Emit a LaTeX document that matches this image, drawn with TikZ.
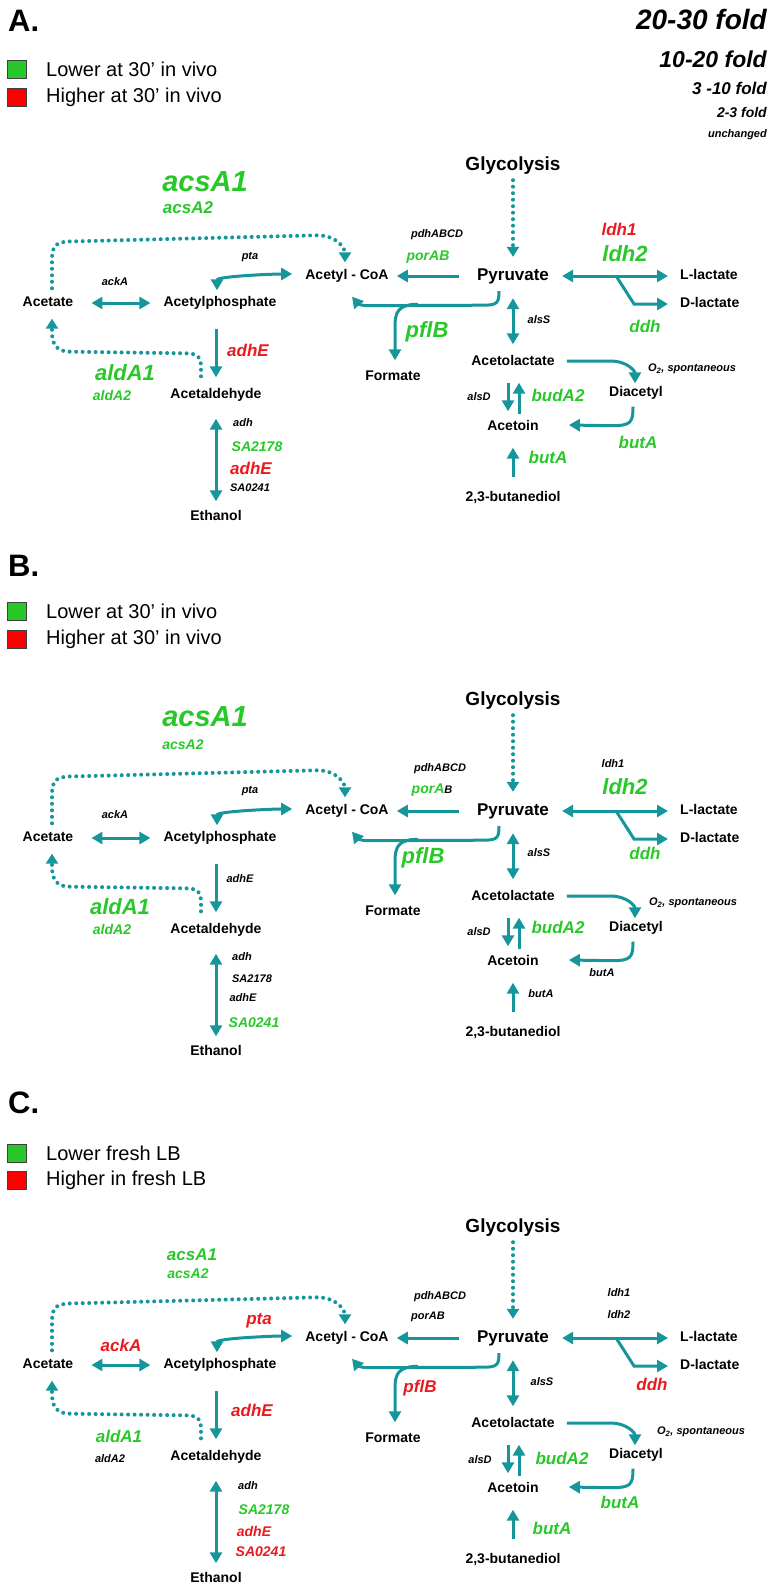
\documentclass[tikz,border=0pt]{standalone}
\usepackage{fontspec}
\setmainfont{Liberation Sans}
\usetikzlibrary{arrows.meta,calc}

\definecolor{pathteal}{RGB}{20,150,155}
\definecolor{lowgreen}{RGB}{40,200,40}
\definecolor{highred}{RGB}{235,25,30}

\tikzset{
  met/.style={font=\bfseries\fontsize{14}{16}\selectfont, inner sep=0pt, text height=10pt, text depth=3pt},
  bigmet/.style={met, font=\bfseries\fontsize{17}{20}\selectfont, text height=12.5pt, text depth=3.5pt},
  topmet/.style={met, font=\bfseries\fontsize{19}{22}\selectfont, text height=14pt, text depth=4pt},
  gzero/.style={font=\bfseries\itshape\fontsize{11}{13}\selectfont, inner sep=0pt},
  gone/.style={font=\bfseries\itshape\fontsize{14}{16}\selectfont, inner sep=0pt},
  gtwo/.style={font=\bfseries\itshape\fontsize{17}{20}\selectfont, inner sep=0pt},
  gthree/.style={font=\bfseries\itshape\fontsize{22}{26}\selectfont, inner sep=0pt},
  gfour/.style={font=\bfseries\itshape\fontsize{29}{34}\selectfont, inner sep=0pt},
  raised/.style={text=highred},
  lowered/.style={text=lowgreen},
  flux/.style={draw=pathteal, line width=3pt, -{Triangle[length=11pt,width=12pt]}},
  bothflux/.style={flux, {Triangle[length=11pt,width=12pt]}-{Triangle[length=11pt,width=12pt]}},
  dotflux/.style={draw=pathteal, line width=4pt, line cap=round, dash pattern=on 0pt off 6.5pt, -{Triangle[length=10pt,width=12pt]}},
  legbox/.style={draw=black!75, line width=0.8pt, minimum width=19pt, minimum height=18pt, inner sep=0pt},
  legtext/.style={anchor=west, font=\fontsize{20}{24}\selectfont, inner sep=0pt},
  panel/.style={anchor=west, font=\bfseries\fontsize{31}{36}\selectfont, inner sep=0pt},
  fold/.style={anchor=east, inner sep=0pt},
}

\begin{document}
\begin{tikzpicture}[x=1pt,y=1pt,yscale=-1]
    \useasboundingbox (0,0) rectangle (774,1592);

    % Same pathway drawn for the three panels
    \foreach \p/\dy in {a/0,b/535,c/1062}{
        % Metabolites
        \node[topmet] (glyc\p) at (513,165+\dy) {Glycolysis};
        \node[bigmet] (pyr\p) at (513,276+\dy) {Pyruvate};
        \node[met] (acoa\p) at (347,276+\dy) {Acetyl - CoA};
        \node[met] (form\p) at (393,377+\dy) {Formate};
        \node[met] (acet\p) at (48,303+\dy) {Acetate};
        \node[met] (acp\p) at (220,303+\dy) {Acetylphosphate};
        \node[met] (acald\p) at (216,395+\dy) {Acetaldehyde};
        \node[met] (etoh\p) at (216,517+\dy) {Ethanol};
        \node[met] (alac\p) at (513,362+\dy) {Acetolactate};
        \node[met] (diac\p) at (636,393+\dy) {Diacetyl};
        \node[met] (acetoin\p) at (513,427+\dy) {Acetoin};
        \node[met] (btd\p) at (513,498+\dy) {2,3-butanediol};
        \node[met, anchor=west] (llac\p) at (680,276+\dy) {L-lactate};
        \node[met, anchor=west] (dlac\p) at (680,304+\dy) {D-lactate};

        % Straight reactions
        \draw[dotflux, shorten <=6pt, shorten >=11pt] (glyc\p.south) -- (pyr\p.north);
        \draw[flux, shorten <=18pt, shorten >=8pt] (pyr\p.west) -- (acoa\p.east);
        \draw[bothflux, shorten <=18pt, shorten >=13pt] (acet\p.east) -- (acp\p.west);
        \draw[flux, shorten <=19pt, shorten >=11pt] (acald\p.north |- acp\p.south) -- (acald\p.north);
        \draw[bothflux, shorten <=17pt, shorten >=9pt] (acald\p.south) -- (etoh\p.north);
        \draw[bothflux, shorten <=14pt, shorten >=11pt] (pyr\p.south) -- (alac\p.north);
        \draw[flux, shorten <=14pt, shorten >=9pt] ([xshift=-5pt]alac\p.south) -- ([xshift=-5pt]acetoin\p.north);
        \draw[flux, shorten <=6pt, shorten >=14pt] ([xshift=6pt]acetoin\p.north) -- ([xshift=6pt]alac\p.south);
        \draw[flux, shorten <=14pt, shorten >=14pt] (btd\p.north) -- (acetoin\p.south);
        \draw[bothflux, shorten <=13pt, shorten >=12pt] (pyr\p.east) -- (llac\p.west);
        \draw[flux] ($(pyr\p.east)+(67,0)$) -- ($(dlac\p.west)+(-46,0)$) -- ($(dlac\p.west)+(-12,0)$);

        % Bent reactions
        \draw[bothflux] ($(acp\p.north)+(-3,-6)$) .. controls +(0,-14) and +(-20,0) .. ($(acoa\p.west)+(-13,-2)$);
        \draw[flux] ($(pyr\p.south)+(-14,7)$) .. controls +(0,12) and +(14,0) .. ($(pyr\p.south)+(-30,21)$) -- ($(acoa\p.south)+(22,23)$) .. controls +(-10,0) and +(5,6) .. ($(acoa\p.south)+(5,14)$);
        \draw[flux] ($(form\p.north)+(25,-66)$) .. controls +(-20,0) and +(0,-14) .. ($(form\p.north)+(2,-44)$) -- ($(form\p.north)+(2,-10)$);
        \draw[flux] ($(alac\p.east)+(12,-1)$) -- ($(alac\p.east)+(55,-1)$) .. controls +(18,0) and +(0,-12) .. ($(diac\p.north)+(-1,-3)$);
        \draw[flux] ($(diac\p.south)+(-3,7)$) .. controls +(0,16) and +(20,0) .. ($(diac\p.south)+(-25,26)$) -- ($(acetoin\p.east)+(30,-2)$);

        % Dotted side routes through acetate
        \draw[dotflux] ($(acet\p.north)+(4,-8)$) -- ($(acet\p.north)+(4,-36)$) .. controls +(0,-18) and +(-20,0) .. ($(acet\p.north)+(30,-55)$) -- ($(acoa\p.north)+(-30,-34)$) .. controls +(20,0) and +(0,-14) .. ($(acoa\p.north)+(-2,-7)$);
        \draw[dotflux] ($(acald\p.north)+(-15,-12)$) -- ($(acald\p.north)+(-15,-22)$) .. controls +(0,-12) and +(10,0) .. ($(acald\p.north)+(-32,-35)$) -- ($(acet\p.south)+(22,42)$) .. controls +(-14,0) and +(0,12) .. ($(acet\p.south)+(4,22)$) -- ($(acet\p.south)+(4,9)$);
    }

    % Panel A header and fold scale
    \node[panel] (labA) at (8,21) {A.};
    \node[legbox, fill=lowgreen] (boxA1) at (17,69) {};
    \node[legbox, fill=red] (boxA2) at (17,97) {};
    \node[legtext] (legA1) at (46,69) {Lower at 30’ in vivo};
    \node[legtext] (legA2) at (46,97) {Higher at 30’ in vivo};
    \node[fold, font=\bfseries\itshape\fontsize{28}{32}\selectfont] (f4) at (767,20) {20-30 fold};
    \node[fold, font=\bfseries\itshape\fontsize{23}{27}\selectfont] (f3) at (767,59) {10-20 fold};
    \node[fold, font=\bfseries\itshape\fontsize{17}{20}\selectfont] (f2) at (767,88) {3 -10 fold};
    \node[fold, font=\bfseries\itshape\fontsize{14}{16}\selectfont] (f1) at (767,112) {2-3 fold};
    \node[fold, font=\bfseries\itshape\fontsize{11}{13}\selectfont] (f0) at (767,135) {unchanged};

    % Panel A genes
    \node[gfour, lowered] (acsA1a) at (205,182) {acsA1};
    \node[gtwo, lowered] (acsA2a) at (188,208) {acsA2};
    \node[gzero] (ptaa) at (250,257) {pta};
    \node[gzero] (ackAa) at (115,282) {ackA};
    \node[gtwo, raised] (adhE1a) at (248,350) {adhE};
    \node[gthree, lowered] (aldA1a) at (125,373) {aldA1};
    \node[gone, lowered] (aldA2a) at (112,395) {aldA2};
    \node[gzero] (adha) at (243,423) {adh};
    \node[gone, lowered] (SA2178a) at (257,447) {SA2178};
    \node[gtwo, raised] (adhE2a) at (251,468) {adhE};
    \node[gzero] (SA0241a) at (250,488) {SA0241};
    \node[gzero] (pdha) at (437,235) {pdhABCD};
    \node[gone, lowered] (pora) at (428,257) {porAB};
    \node[gthree, lowered] (pflBa) at (427,332) {pflB};
    \node[gzero] (alsSa) at (539,320) {alsS};
    \node[gtwo, raised] (ldh1a) at (619,229) {ldh1};
    \node[gthree, lowered] (ldh2a) at (625,254) {ldh2};
    \node[gtwo, lowered] (ddha) at (645,326) {ddh};
    \node[gzero] (o2a) at (692,369) {O\textsubscript{2}, spontaneous};
    \node[gzero] (alsDa) at (479,397) {alsD};
    \node[gtwo, lowered] (budA2a) at (558,395) {budA2};
    \node[gtwo, lowered] (butA1a) at (638,442) {butA};
    \node[gtwo, lowered] (butA2a) at (548,457) {butA};

    % Panel B header
    \node[panel] (labB) at (8,566) {B.};
    \node[legbox, fill=lowgreen] (boxB1) at (17,611) {};
    \node[legbox, fill=red] (boxB2) at (17,639) {};
    \node[legtext] (legB1) at (46,611) {Lower at 30’ in vivo};
    \node[legtext] (legB2) at (46,639) {Higher at 30’ in vivo};

    % Panel B genes
    \node[gfour, lowered] (acsA1b) at (205,717) {acsA1};
    \node[gone, lowered] (acsA2b) at (183,745) {acsA2};
    \node[gzero] (ptab) at (250,791) {pta};
    \node[gzero] (ackAb) at (115,815) {ackA};
    \node[gzero] (adhE1b) at (240,879) {adhE};
    \node[gthree, lowered] (aldA1b) at (120,907) {aldA1};
    \node[gone, lowered] (aldA2b) at (112,929) {aldA2};
    \node[gzero] (adhb) at (242,957) {adh};
    \node[gzero] (SA2178b) at (252,979) {SA2178};
    \node[gzero] (adhE2b) at (243,998) {adhE};
    \node[gone, lowered] (SA0241b) at (254,1023) {SA0241};
    \node[gzero] (pdhb) at (440,769) {pdhABCD};
    \node[gone, lowered] (porb) at (432,790) {porA\textcolor{black}{\fontsize{11}{13}\selectfont B}};
    \node[gthree, lowered] (pflBb) at (423,858) {pflB};
    \node[gzero] (alsSb) at (539,853) {alsS};
    \node[gzero] (ldh1b) at (613,764) {ldh1};
    \node[gthree, lowered] (ldh2b) at (625,787) {ldh2};
    \node[gtwo, lowered] (ddhb) at (645,853) {ddh};
    \node[gzero] (o2b) at (693,903) {O\textsubscript{2}, spontaneous};
    \node[gzero] (alsDb) at (479,932) {alsD};
    \node[gtwo, lowered] (budA2b) at (558,927) {budA2};
    \node[gzero] (butA1b) at (602,973) {butA};
    \node[gzero] (butA2b) at (541,994) {butA};

    % Panel C header
    \node[panel] (labC) at (8,1103) {C.};
    \node[legbox, fill=lowgreen] (boxC1) at (17,1153) {};
    \node[legbox, fill=red] (boxC2) at (17,1180) {};
    \node[legtext] (legC1) at (46,1153) {Lower fresh LB};
    \node[legtext] (legC2) at (46,1180) {Higher in fresh LB};

    % Panel C genes
    \node[gtwo, lowered] (acsA1c) at (192,1255) {acsA1};
    \node[gone, lowered] (acsA2c) at (188,1274) {acsA2};
    \node[gtwo, raised] (ptac) at (259,1321) {pta};
    \node[gtwo, raised] (ackAc) at (121,1345) {ackA};
    \node[gtwo, raised] (adhE1c) at (252,1410) {adhE};
    \node[gtwo, lowered] (aldA1c) at (119,1436) {aldA1};
    \node[gzero] (aldA2c) at (110,1459) {aldA2};
    \node[gzero] (adhc) at (248,1486) {adh};
    \node[gone, lowered] (SA2178c) at (264,1510) {SA2178};
    \node[gone, raised] (adhE2c) at (254,1531) {adhE};
    \node[gone, raised] (SA0241c) at (261,1552) {SA0241};
    \node[gzero] (pdhc) at (440,1297) {pdhABCD};
    \node[gzero] (porc) at (428,1317) {porAB};
    \node[gtwo, raised] (pflBc) at (420,1388) {pflB};
    \node[gzero] (alsSc) at (542,1382) {alsS};
    \node[gzero] (ldh1c) at (619,1293) {ldh1};
    \node[gzero] (ldh2c) at (619,1315) {ldh2};
    \node[gtwo, raised] (ddhc) at (652,1384) {ddh};
    \node[gzero] (o2c) at (701,1432) {O\textsubscript{2}, spontaneous};
    \node[gzero] (alsDc) at (480,1460) {alsD};
    \node[gtwo, lowered] (budA2c) at (562,1458) {budA2};
    \node[gtwo, lowered] (butA1c) at (620,1502) {butA};
    \node[gtwo, lowered] (butA2c) at (552,1528) {butA};
\end{tikzpicture}
\end{document}
